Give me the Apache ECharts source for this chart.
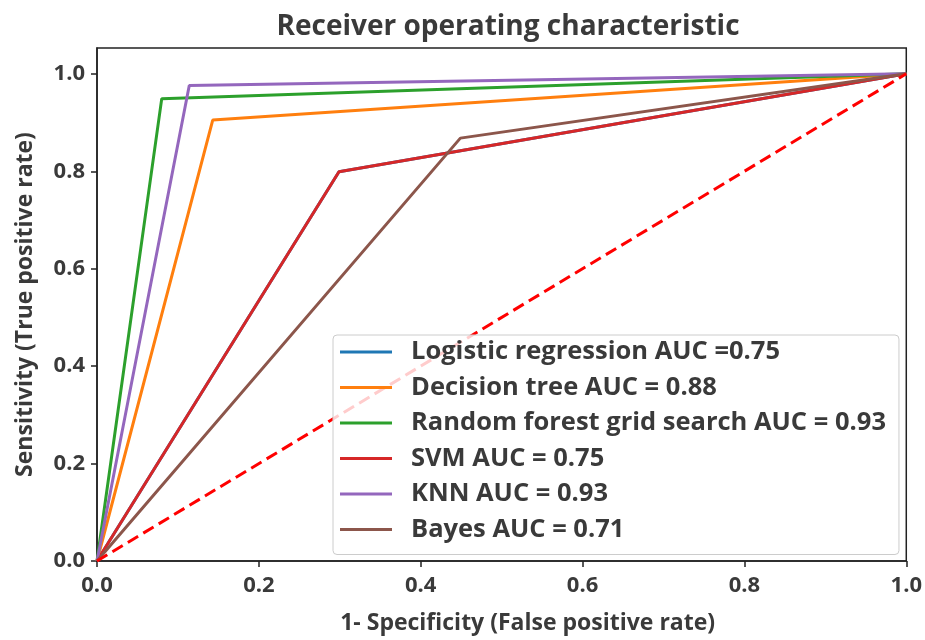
<!DOCTYPE html>
<html>
<head>
<meta charset="utf-8">
<script src="https://cdn.jsdelivr.net/npm/echarts@6/dist/echarts.min.js"></script>
<style>html,body{margin:0;padding:0;background:#fff}#c{width:925px;height:640px}</style>
</head>
<body>
<div id="c"></div>
<script>
const titleText = "Receiver operating characteristic";
const xName = "1- Specificity (False positive rate)";
const yName = "Sensitivity (True positive rate)";
const tickValues = [0, 0.2, 0.4, 0.6, 0.8, 1.0];

const seriesNames = [
  "Logistic regression AUC =0.75",
  "Decision tree AUC = 0.88",
  "Random forest grid search AUC = 0.93",
  "SVM AUC = 0.75",
  "KNN AUC = 0.93",
  "Bayes AUC = 0.71"
];
const colors = ["#1f77b4", "#ff7f0e", "#2ca02c", "#d62728", "#9467bd", "#8c564b"];

// ROC points [fpr, tpr]
const logisticROC = [[0, 0], [0.299, 0.799], [1, 1]];
const treeROC     = [[0, 0], [0.143, 0.905], [1, 1]];
const forestROC   = [[0, 0], [0.080, 0.949], [1, 1]];
const svmROC      = [[0, 0], [0.299, 0.799], [1, 1]];
const knnROC      = [[0, 0], [0.114, 0.976], [1, 1]];
const bayesROC    = [[0, 0], [0.449, 0.868], [1, 1]];
const chanceLine  = [[0, 0], [1, 1]];

const rocData = [logisticROC, treeROC, forestROC, svmROC, knnROC, bayesROC];

const FONT = "'Open Sans', 'DejaVu Sans', sans-serif";
const TXT = "#3a3a3a";

const chart = echarts.init(document.getElementById('c'), null, {renderer: 'canvas'});

const series = rocData.map((d, i) => ({
  name: seriesNames[i],
  type: 'line',
  data: d,
  symbol: 'none',
  lineStyle: {color: colors[i], width: 3},
  itemStyle: {color: colors[i]},
  z: 2 + i * 0.01
}));
series.push({
  name: 'chance',
  type: 'line',
  data: chanceLine,
  symbol: 'none',
  lineStyle: {color: '#ff0000', width: 3, type: [12, 6]},
  z: 3
});

chart.setOption({
  animation: false,
  backgroundColor: '#fff',
  graphic: [{
    type: 'text',
    x: 508, y: 27,
    style: {
      text: titleText,
      font: "bold 28px " + FONT, fill: TXT, textAlign: 'center', textVerticalAlign: 'middle'
    }
  }],
  grid: {
    left: 97, right: 15, top: 48, bottom: 72,
    show: true, borderColor: '#222', borderWidth: 1.5, backgroundColor: 'transparent'
  },
  legend: {
    data: seriesNames,
    orient: 'vertical',
    left: 333, top: 335,
    icon: 'rect',
    itemWidth: 52, itemHeight: 3,
    itemGap: 7.5,
    padding: [3, 13, 11, 7],
    backgroundColor: 'rgba(255,255,255,0.8)',
    borderColor: '#cccccc', borderWidth: 1, borderRadius: 4,
    textStyle: {fontFamily: FONT, fontWeight: 'bold', fontSize: 25.5, color: TXT, padding: [0, 0, 0, 14], lineHeight: 28}
  },
  xAxis: {
    type: 'value', min: 0, max: 1, interval: 0.2,
    name: xName, nameLocation: 'middle', nameGap: 51,
    nameTextStyle: {fontFamily: FONT, fontWeight: 'bold', fontSize: 23, color: TXT, padding: [0, 0, 0, 52]},
    axisLine: {show: true, lineStyle: {color: '#222', width: 1.5}},
    axisTick: {show: true, inside: false, length: 6, lineStyle: {color: '#222', width: 1.5}},
    axisLabel: {fontFamily: FONT, fontWeight: 'bold', fontSize: 22, color: TXT, margin: 14,
      formatter: v => v.toFixed(1)},
    splitLine: {show: false}
  },
  yAxis: {
    type: 'value', min: 0, max: 1.053, interval: 0.2,
    name: yName, nameLocation: 'middle', nameGap: 60, nameRotate: 90,
    nameTextStyle: {fontFamily: FONT, fontWeight: 'bold', fontSize: 23, color: TXT},
    axisLine: {show: true, lineStyle: {color: '#222', width: 1.5}},
    axisTick: {show: true, inside: false, length: 6, lineStyle: {color: '#222', width: 1.5},
      customValues: tickValues},
    axisLabel: {fontFamily: FONT, fontWeight: 'bold', fontSize: 22, color: TXT, margin: 12,
      customValues: tickValues, formatter: v => v.toFixed(1)},
    splitLine: {show: false}
  },
  series: series
});
</script>
</body>
</html>
